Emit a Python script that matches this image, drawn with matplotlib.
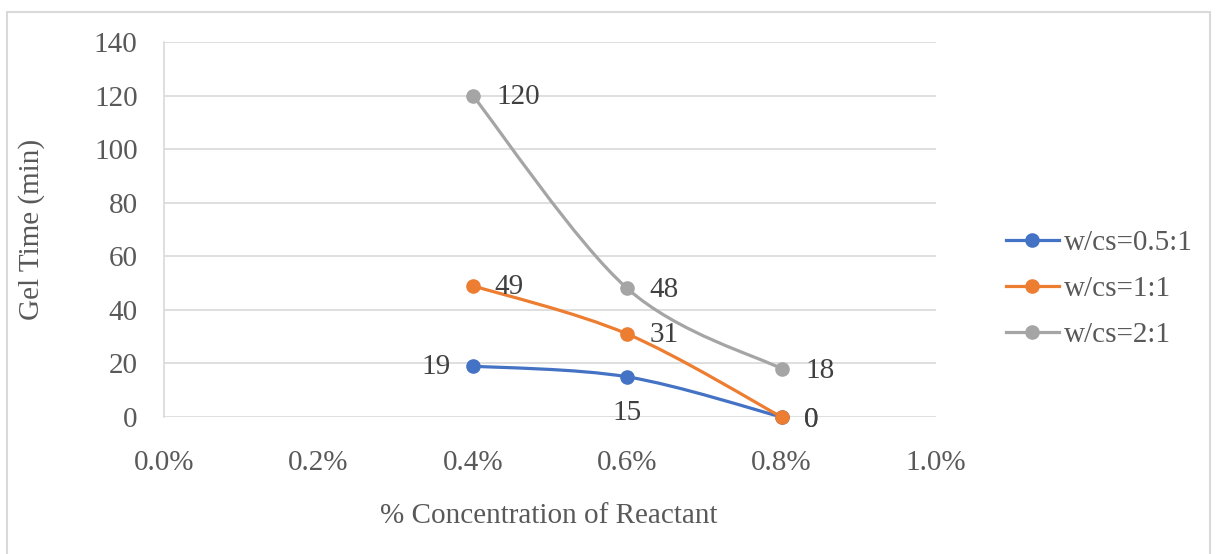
import matplotlib
matplotlib.use("Agg")
import matplotlib.pyplot as plt
from matplotlib.path import Path
from matplotlib.patches import PathPatch, Rectangle
from matplotlib.lines import Line2D
from matplotlib.ticker import MultipleLocator, FuncFormatter

plt.rcParams['font.family'] = ['Liberation Serif', 'DejaVu Serif']

conc = [0.004, 0.006, 0.008]
series_names = ["w/cs=0.5:1", "w/cs=1:1", "w/cs=2:1"]
gel_05 = [19, 15, 0]
gel_1 = [49, 31, 0]
gel_2 = [120, 48, 18]
colors = ["#4472C4", "#ED7D31", "#A5A5A5"]
x_label = "% Concentration of Reactant"
y_label = "Gel Time (min)"

# label placement (pixel offsets) per series / point
label_offsets = [
    [(-22, -1, 'right', 'center'), (0, -36, 'center', 'center'), (22, -3, 'left', 'center')],
    [(22, -1, 'left', 'center'), (22, -1, 'left', 'center'), (22, -3, 'left', 'center')],
    [(24, -1, 'left', 'center'), (22, -2, 'left', 'center'), (24, -2, 'left', 'center')],
]

FS = 21
text_color = "#595959"
W, H = 1218, 554
fig = plt.figure(figsize=(W / 100, H / 100), dpi=100)
ax = fig.add_axes([164 / W, 1 - 417 / H, (936 - 164) / W, (417 - 42) / H])

ax.set_xlim(0, 0.01)
ax.set_ylim(0, 140)
ax.xaxis.set_major_locator(MultipleLocator(0.002))
ax.yaxis.set_major_locator(MultipleLocator(20))
ax.xaxis.set_major_formatter(FuncFormatter(lambda v, p: f"{v*100:.1f}%"))
ax.grid(axis='y', color="#D9D9D9", linewidth=1.2)
ax.set_axisbelow(True)
for s in ['top', 'right', 'bottom']:
    ax.spines[s].set_visible(False)
ax.spines['left'].set_color("#D9D9D9")
ax.spines['left'].set_linewidth(1.2)
ax.tick_params(length=0, labelsize=FS, colors=text_color)
ax.tick_params(axis='x', pad=24)
ax.tick_params(axis='y', pad=19)
ax.set_xlabel(x_label, fontsize=FS, color=text_color)
ax.set_ylabel(y_label, fontsize=FS, color=text_color)
ax.xaxis.set_label_coords(0.4987, (417 - 503) / 375)
ax.yaxis.set_label_coords((45 - 164) / 772, 0.5)


def smooth_path(xs, ys):
    pts = list(zip(xs, ys))
    n = len(pts)
    verts = [pts[0]]
    codes = [Path.MOVETO]
    for i in range(n - 1):
        p0 = pts[i - 1] if i > 0 else pts[i]
        p1 = pts[i]
        p2 = pts[i + 1]
        p3 = pts[i + 2] if i + 2 < n else pts[i + 1]
        c1 = (p1[0] + (p2[0] - p0[0]) / 6, p1[1] + (p2[1] - p0[1]) / 6)
        c2 = (p2[0] - (p3[0] - p1[0]) / 6, p2[1] - (p3[1] - p1[1]) / 6)
        verts += [c1, c2, p2]
        codes += [Path.CURVE4] * 3
    return Path(verts, codes)


all_series = [gel_05, gel_1, gel_2]
handles = []
for vals, c, name, offs in zip(all_series, colors, series_names, label_offsets):
    patch = PathPatch(smooth_path(conc, vals), facecolor='none', edgecolor=c,
                      linewidth=2.3, capstyle='round', zorder=3)
    ax.add_patch(patch)
    ax.plot(conc, vals, linestyle='none', marker='o', markersize=9.5,
            color=c, zorder=4, clip_on=False)
    for xv, yv, (dx, dy, ha, va) in zip(conc, vals, offs):
        ax.annotate(str(yv), (xv, yv), xytext=(dx, dy), textcoords='offset pixels',
                    ha=ha, va=va, fontsize=FS, color="#404040", zorder=5,
                    annotation_clip=False)
    handles.append(Line2D([], [], color=c, linewidth=2.3, marker='o', markersize=9.5))

fig.legend(handles, series_names, loc='center left', bbox_to_anchor=(1006 / W, 1 - 289 / H),
           frameon=False, fontsize=FS, labelcolor=text_color, handlelength=1.8,
           handletextpad=0.2, labelspacing=0.68, borderpad=0, borderaxespad=0)

fig.add_artist(Rectangle((7 / W, -0.05), (1210 - 7) / W, 1 - 12 / H + 0.05,
                         transform=fig.transFigure, fill=False,
                         edgecolor="#D9D9D9", linewidth=1.5))

fig.savefig("out.png", dpi=100, facecolor='white')
